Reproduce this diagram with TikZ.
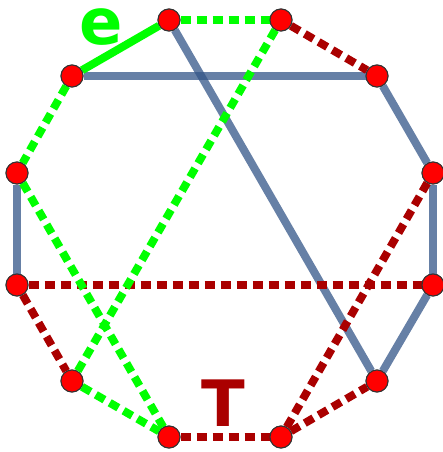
\documentclass[tikz,border=0pt]{standalone}
\usepackage{fontspec}
\newfontfamily\labelfont{DejaVu Sans}
\definecolor{edgegreen}{RGB}{0,255,0}
\definecolor{edgered}{RGB}{170,0,0}
\definecolor{edgeblue}{RGB}{51,85,136}
\tikzset{
	vertex/.style={circle, fill=red, draw=black!80, line width=1pt, minimum size=22pt, inner sep=0pt},
	tree/.style={line width=8pt, edgegreen},
	cotree/.style={line width=8pt, edgegreen, dash pattern=on 10pt off 6pt},
	cut/.style={line width=8pt, edgered, dash pattern=on 10pt off 6pt},
	other/.style={line width=8pt, edgeblue, opacity=0.75},
	biglabel/.style={anchor=base, inner sep=0pt, font=\labelfont\bfseries\fontsize{64}{64}\selectfont}
}
\begin{document}
\begin{tikzpicture}[x=1pt, y=-1pt]
	\useasboundingbox (0,0) rectangle (443,452);
	% vertices
	\node[vertex] (a) at (169,20) {};
	\node[vertex] (b) at (281,20) {};
	\node[vertex] (c) at (72,76) {};
	\node[vertex] (d) at (377,76) {};
	\node[vertex] (f) at (17,173) {};
	\node[vertex] (g) at (433,173) {};
	\node[vertex] (h) at (17,285) {};
	\node[vertex] (i) at (433,285) {};
	\node[vertex] (j) at (72,381) {};
	\node[vertex] (k) at (377,381) {};
	\node[vertex] (l) at (169,437) {};
	\node[vertex] (m) at (281,437) {};
	% edges
	\draw[other] (c) -- (d);
	\draw[other] (a) -- (k);
	\draw[other] (d) -- (g);
	\draw[other] (f) -- (h);
	\draw[other] (g) -- (i);
	\draw[other] (i) -- (k);
	\draw[cut] (b) -- (d);
	\draw[cut] (h) -- (i);
	\draw[cut] (h) -- (j);
	\draw[cut] (l) -- (m);
	\draw[cut] (m) -- (k);
	\draw[cut] (m) -- (g);
	\draw[tree] (c) -- (a);
	\draw[cotree] (a) -- (b);
	\draw[cotree] (c) -- (f);
	\draw[cotree] (f) -- (l);
	\draw[cotree] (b) -- (j);
	\draw[cotree] (j) -- (l);
	% redraw vertices on top
	\foreach \v in {a,b,c,d,f,g,h,i,j,k,l,m}
		\node[vertex] at (\v) {};
	% labels
	\node[biglabel, edgegreen] (elabel) at (101,45) {e};
	\node[biglabel, edgered] (tlabel) at (223,426) {T};
\end{tikzpicture}
\end{document}
